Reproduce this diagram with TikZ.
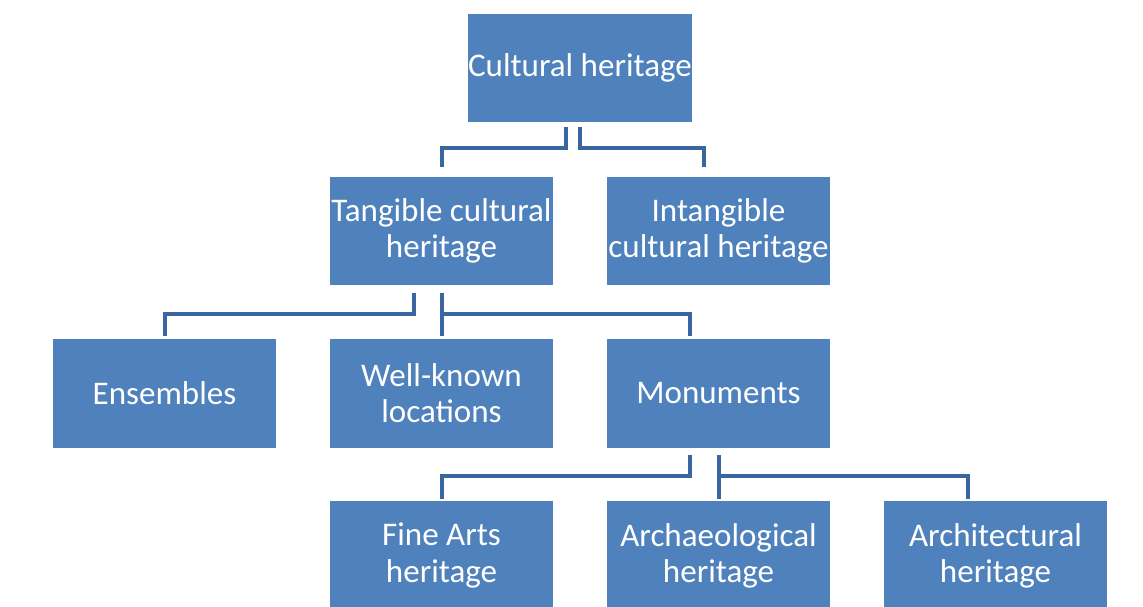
\documentclass[tikz,border=0pt]{standalone}
\usepackage{fontspec}
\setmainfont{Carlito}
\definecolor{boxblue}{RGB}{79,129,189}
\definecolor{linkblue}{RGB}{58,102,160}

\begin{document}
\begin{tikzpicture}[x=0.02cm, y=-0.02cm,
  box/.style={fill=boxblue, text=white, minimum width=4.46cm, minimum height=2.18cm,
    inner sep=0pt, align=center, font=\fontsize{18.8}{20.6}\selectfont},
  link/.style={draw=linkblue, line width=0.08cm}]
  \useasboundingbox (0,0) rectangle (1143,607);
  \clip (0,0) rectangle (1143,607);

  \node[box] (cult) at (580,68) {Cultural heritage};
  \node[box] (tang) at (441.5,231) {Tangible cultural\\heritage};
  \node[box] (intang) at (718.5,231) {Intangible\\cultural heritage};
  \node[box] (ens) at (164.5,393.5) {Ensembles};
  \node[box] (well) at (441.5,393.5) {Well-known\\locations};
  \node[box] (monu) at (718.5,393.5) {Monuments};
  \node[box] (fine) at (441.5,555.5) {Fine Arts\\heritage};
  \node[box] (arch) at (718.5,555.5) {Archaeological\\heritage};
  \node[box] (archi) at (995.5,555.5) {Architectural\\heritage};

  \draw[link] ([shift={(-14,4)}]cult.south) -- ++(0,21) -| ([shift={(0,-9)}]tang.north);
  \draw[link] ([shift={(0,4)}]cult.south) -- ++(0,21) -| ([shift={(-14.5,-9)}]intang.north);

  \draw[link] ([shift={(-27.5,7)}]tang.south) -- ++(0,21) -| ([shift={(0,-3)}]ens.north);
  \draw[link] ([shift={(0,7)}]tang.south) -- ([shift={(0,-3)}]well.north);
  \draw[link] ([shift={(0,28)}]tang.south) -| ([shift={(-28.5,-3)}]monu.north);

  \draw[link] ([shift={(-28.5,7)}]monu.south) -- ++(0,21) -| ([shift={(0,-2)}]fine.north);
  \draw[link] ([shift={(0,7)}]monu.south) -- ([shift={(0,-2)}]arch.north);
  \draw[link] ([shift={(0,28)}]monu.south) -| ([shift={(-28,-2)}]archi.north);

\end{tikzpicture}
\end{document}
